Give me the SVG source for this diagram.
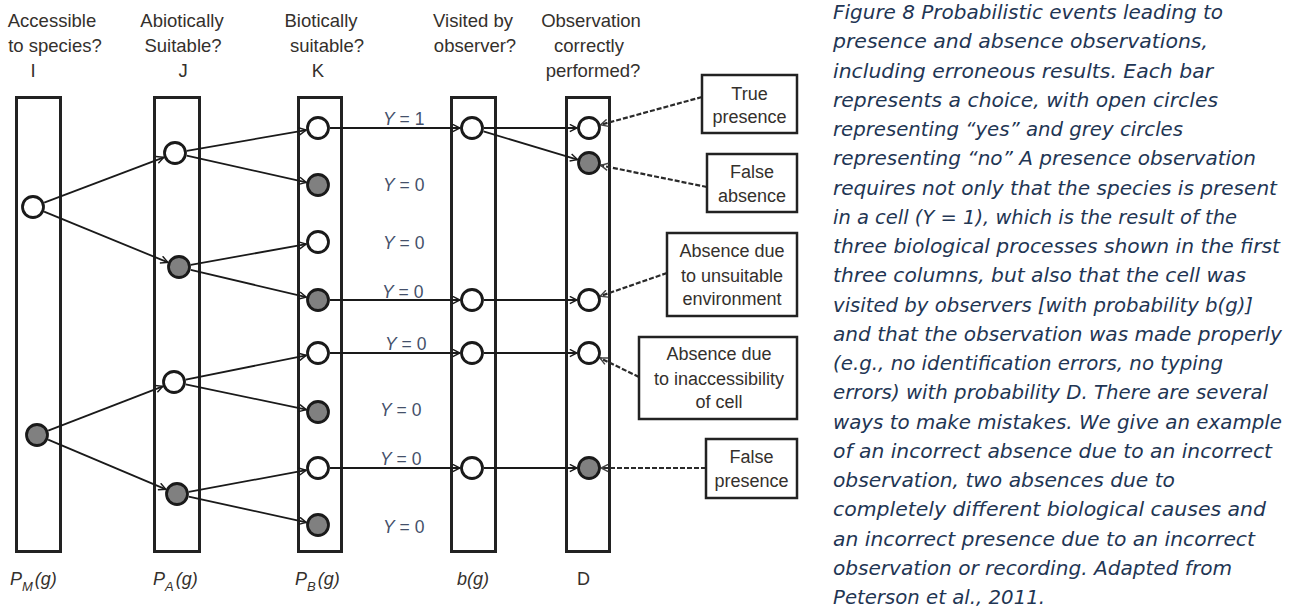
<svg xmlns="http://www.w3.org/2000/svg" width="1296" height="612" viewBox="0 0 1296 612">
<style>
.hd{font-family:"Liberation Sans",Arial,sans-serif;font-size:18.5px;fill:#34302c;text-anchor:middle}
.bx{font-family:"Liberation Sans",Arial,sans-serif;font-size:18px;fill:#34302c;text-anchor:middle}
.yl{font-family:"Liberation Sans",Arial,sans-serif;font-size:17.5px;fill:#44506a}
.bt{font-family:"Liberation Sans",Arial,sans-serif;font-size:18px;fill:#34302c}
.cap{font-family:"DejaVu Sans",sans-serif;font-size:19px;font-style:italic;fill:#1f3654}
.bar{fill:#fff;stroke:#222;stroke-width:3}
.box{fill:#fff;stroke:#222;stroke-width:2.5}
.yes{fill:#fff;stroke:#1a1a1a;stroke-width:2.8}
.no{fill:#808080;stroke:#1a1a1a;stroke-width:2.8}
.ln{stroke:#1a1a1a;stroke-width:1.8;fill:none;marker-end:url(#arr)}
.ds{stroke:#2a2a2a;stroke-width:2.2;stroke-dasharray:5 2;fill:none;marker-end:url(#arrd)}
</style>
<defs>
<marker id="arr" viewBox="0 0 10 10" refX="9" refY="5" markerWidth="9" markerHeight="9" markerUnits="userSpaceOnUse" orient="auto">
<path d="M1,1 L9,5 L1,9" fill="none" stroke="#1a1a1a" stroke-width="1.6"/>
</marker>
<marker id="arrd" viewBox="0 0 10 10" refX="9" refY="5" markerWidth="9" markerHeight="9" markerUnits="userSpaceOnUse" orient="auto">
<path d="M1,1 L9,5 L1,9" fill="none" stroke="#444" stroke-width="1.6"/>
</marker>
</defs>
<rect width="1296" height="612" fill="#fff"/>

<g id="headers">
<text class="hd" x="52" y="27">Accessible</text>
<text class="hd" x="55" y="52">to species?</text>
<text class="hd" x="33" y="77">I</text>
<text class="hd" x="182" y="27">Abiotically</text>
<text class="hd" x="183" y="52">Suitable?</text>
<text class="hd" x="183" y="77">J</text>
<text class="hd" x="321" y="27">Biotically</text>
<text class="hd" x="327" y="52">suitable?</text>
<text class="hd" x="318" y="77">K</text>
<text class="hd" x="473" y="27">Visited by</text>
<text class="hd" x="475" y="52">observer?</text>
<text class="hd" x="591" y="27">Observation</text>
<text class="hd" x="589" y="52">correctly</text>
<text class="hd" x="593" y="77">performed?</text>
</g>

<g id="bar-I"><rect class="bar" x="16.5" y="97.5" width="44" height="454"/></g>
<g id="bar-J"><rect class="bar" x="154.5" y="97.5" width="45" height="454"/></g>
<g id="bar-K"><rect class="bar" x="298.5" y="97.5" width="43" height="454"/></g>
<g id="bar-b"><rect class="bar" x="451.5" y="97.5" width="44" height="454"/></g>
<g id="bar-D"><rect class="bar" x="566.5" y="97.5" width="43" height="454"/></g>

<g id="connectors">
<line class="ln" x1="44.2" y1="202.7" x2="163.8" y2="157.3"/>
<line class="ln" x1="44.1" y1="211.6" x2="167.9" y2="262.4"/>
<line class="ln" x1="48.2" y1="430.7" x2="162.8" y2="386.3"/>
<line class="ln" x1="48.1" y1="439.7" x2="165.9" y2="489.3"/>
<line class="ln" x1="186.8" y1="150.9" x2="306.2" y2="130.1"/>
<line class="ln" x1="186.7" y1="155.6" x2="306.3" y2="182.4"/>
<line class="ln" x1="190.8" y1="264.9" x2="306.2" y2="244.1"/>
<line class="ln" x1="190.7" y1="269.8" x2="306.3" y2="297.2"/>
<line class="ln" x1="185.8" y1="379.6" x2="306.2" y2="355.4"/>
<line class="ln" x1="185.7" y1="384.4" x2="306.3" y2="409.6"/>
<line class="ln" x1="188.8" y1="491.8" x2="306.2" y2="470.2"/>
<line class="ln" x1="188.7" y1="496.6" x2="306.3" y2="522.4"/>
<line class="ln" x1="330" y1="128" x2="460" y2="128"/>
<line class="ln" x1="330" y1="300" x2="460" y2="300"/>
<line class="ln" x1="330" y1="353" x2="460" y2="353"/>
<line class="ln" x1="330" y1="468" x2="460" y2="468"/>
<line class="ln" x1="484" y1="128" x2="577" y2="128"/>
<line class="ln" x1="483.5" y1="131.4" x2="577.5" y2="159.6"/>
<line class="ln" x1="484" y1="300" x2="577" y2="300"/>
<line class="ln" x1="484" y1="353" x2="577" y2="353"/>
<line class="ln" x1="484" y1="468" x2="577" y2="468"/>
<line class="ds" x1="702" y1="97" x2="600.6" y2="124.8"/>
<line class="ds" x1="707" y1="187" x2="600.8" y2="165.4"/>
<line class="ds" x1="667" y1="273" x2="600.3" y2="296.1"/>
<line class="ds" x1="639" y1="377" x2="600" y2="358"/>
<line class="ds" x1="706" y1="468" x2="601" y2="468"/>
</g>

<g id="nodes-I">
<circle class="yes" cx="33" cy="207" r="10.5"/>
<circle class="no" cx="37" cy="435" r="10.5"/>
</g>
<g id="nodes-J">
<circle class="yes" cx="175" cy="153" r="10.5"/>
<circle class="no" cx="179" cy="267" r="10.5"/>
<circle class="yes" cx="174" cy="382" r="10.5"/>
<circle class="no" cx="177" cy="494" r="10.5"/>
</g>
<g id="nodes-K">
<circle class="yes" cx="318" cy="128" r="10.5"/>
<circle class="no" cx="318" cy="185" r="10.5"/>
<circle class="yes" cx="318" cy="242" r="10.5"/>
<circle class="no" cx="318" cy="300" r="10.5"/>
<circle class="yes" cx="318" cy="353" r="10.5"/>
<circle class="no" cx="318" cy="412" r="10.5"/>
<circle class="yes" cx="318" cy="468" r="10.5"/>
<circle class="no" cx="318" cy="525" r="10.5"/>
</g>
<g id="nodes-b">
<circle class="yes" cx="472" cy="128" r="10.5"/>
<circle class="yes" cx="472" cy="300" r="10.5"/>
<circle class="yes" cx="472" cy="353" r="10.5"/>
<circle class="yes" cx="472" cy="468" r="10.5"/>
</g>
<g id="nodes-D">
<circle class="yes" cx="589" cy="128" r="10.5"/>
<circle class="no" cx="589" cy="163" r="10.5"/>
<circle class="yes" cx="589" cy="300" r="10.5"/>
<circle class="yes" cx="589" cy="353" r="10.5"/>
<circle class="no" cx="589" cy="468" r="10.5"/>
</g>

<g id="y-labels">
<text class="yl" x="383" y="125"><tspan font-style="italic">Y</tspan> = 1</text>
<text class="yl" x="383" y="191"><tspan font-style="italic">Y</tspan> = 0</text>
<text class="yl" x="383" y="249"><tspan font-style="italic">Y</tspan> = 0</text>
<text class="yl" x="382" y="298"><tspan font-style="italic">Y</tspan> = 0</text>
<text class="yl" x="385" y="350"><tspan font-style="italic">Y</tspan> = 0</text>
<text class="yl" x="380" y="416"><tspan font-style="italic">Y</tspan> = 0</text>
<text class="yl" x="380" y="465"><tspan font-style="italic">Y</tspan> = 0</text>
<text class="yl" x="383" y="533"><tspan font-style="italic">Y</tspan> = 0</text>
</g>

<g id="box-true-presence">
<rect class="box" x="702" y="75" width="95" height="58"/>
<text class="bx" x="749.5" y="100">True</text>
<text class="bx" x="749.5" y="123">presence</text>
</g>
<g id="box-false-absence">
<rect class="box" x="707" y="154" width="90" height="58"/>
<text class="bx" x="752" y="178">False</text>
<text class="bx" x="752" y="202">absence</text>
</g>
<g id="box-unsuitable">
<rect class="box" x="667" y="233" width="130" height="83"/>
<text class="bx" x="732" y="257">Absence due</text>
<text class="bx" x="732" y="282">to unsuitable</text>
<text class="bx" x="732" y="305">environment</text>
</g>
<g id="box-inaccessibility">
<rect class="box" x="639" y="337" width="158" height="82"/>
<text class="bx" x="719" y="360">Absence due</text>
<text class="bx" x="719" y="385">to inaccessibility</text>
<text class="bx" x="719" y="408">of cell</text>
</g>
<g id="box-false-presence">
<rect class="box" x="706" y="439" width="91" height="59"/>
<text class="bx" x="751.5" y="463">False</text>
<text class="bx" x="751.5" y="487">presence</text>
</g>

<g id="bottom-labels">
<text class="bt" x="10" y="585" font-style="italic">P<tspan font-size="13" dy="6">M</tspan><tspan dy="-6" dx="2">(g)</tspan></text>
<text class="bt" x="153" y="585" font-style="italic">P<tspan font-size="13" dy="6">A</tspan><tspan dy="-6" dx="2">(g)</tspan></text>
<text class="bt" x="295" y="585" font-style="italic">P<tspan font-size="13" dy="6">B</tspan><tspan dy="-6" dx="2">(g)</tspan></text>
<text class="bt" x="457" y="585" font-style="italic">b(g)</text>
<text class="bt" x="577" y="585">D</text>
</g>

<g id="caption">
<text class="cap" x="833" y="19" textLength="390" lengthAdjust="spacingAndGlyphs">Figure 8 Probabilistic events leading to</text>
<text class="cap" x="833" y="48.25" textLength="375" lengthAdjust="spacingAndGlyphs">presence and absence observations,</text>
<text class="cap" x="833" y="77.5" textLength="380" lengthAdjust="spacingAndGlyphs">including erroneous results. Each bar</text>
<text class="cap" x="833" y="106.75" textLength="385" lengthAdjust="spacingAndGlyphs">represents a choice, with open circles</text>
<text class="cap" x="833" y="136" textLength="350" lengthAdjust="spacingAndGlyphs">representing “yes” and grey circles</text>
<text class="cap" x="833" y="165.25" textLength="423" lengthAdjust="spacingAndGlyphs">representing “no” A presence observation</text>
<text class="cap" x="833" y="194.5" textLength="444" lengthAdjust="spacingAndGlyphs">requires not only that the species is present</text>
<text class="cap" x="833" y="223.75" textLength="404" lengthAdjust="spacingAndGlyphs">in a cell (Y = 1), which is the result of the</text>
<text class="cap" x="833" y="253" textLength="447" lengthAdjust="spacingAndGlyphs">three biological processes shown in the first</text>
<text class="cap" x="833" y="282.25" textLength="413" lengthAdjust="spacingAndGlyphs">three columns, but also that the cell was</text>
<text class="cap" x="833" y="311.5" textLength="420" lengthAdjust="spacingAndGlyphs">visited by observers [with probability b(g)]</text>
<text class="cap" x="833" y="340.75" textLength="449" lengthAdjust="spacingAndGlyphs">and that the observation was made properly</text>
<text class="cap" x="833" y="370" textLength="390" lengthAdjust="spacingAndGlyphs">(e.g., no identification errors, no typing</text>
<text class="cap" x="833" y="399.25" textLength="435" lengthAdjust="spacingAndGlyphs">errors) with probability D. There are several</text>
<text class="cap" x="833" y="428.5" textLength="449" lengthAdjust="spacingAndGlyphs">ways to make mistakes. We give an example</text>
<text class="cap" x="833" y="457.75" textLength="439" lengthAdjust="spacingAndGlyphs">of an incorrect absence due to an incorrect</text>
<text class="cap" x="833" y="487" textLength="342" lengthAdjust="spacingAndGlyphs">observation, two absences due to</text>
<text class="cap" x="833" y="516.25" textLength="433" lengthAdjust="spacingAndGlyphs">completely different biological causes and</text>
<text class="cap" x="833" y="545.5" textLength="422" lengthAdjust="spacingAndGlyphs">an incorrect presence due to an incorrect</text>
<text class="cap" x="833" y="574.75" textLength="399" lengthAdjust="spacingAndGlyphs">observation or recording. Adapted from</text>
<text class="cap" x="833" y="604" textLength="212" lengthAdjust="spacingAndGlyphs">Peterson et al., 2011.</text>
</g>
</svg>
